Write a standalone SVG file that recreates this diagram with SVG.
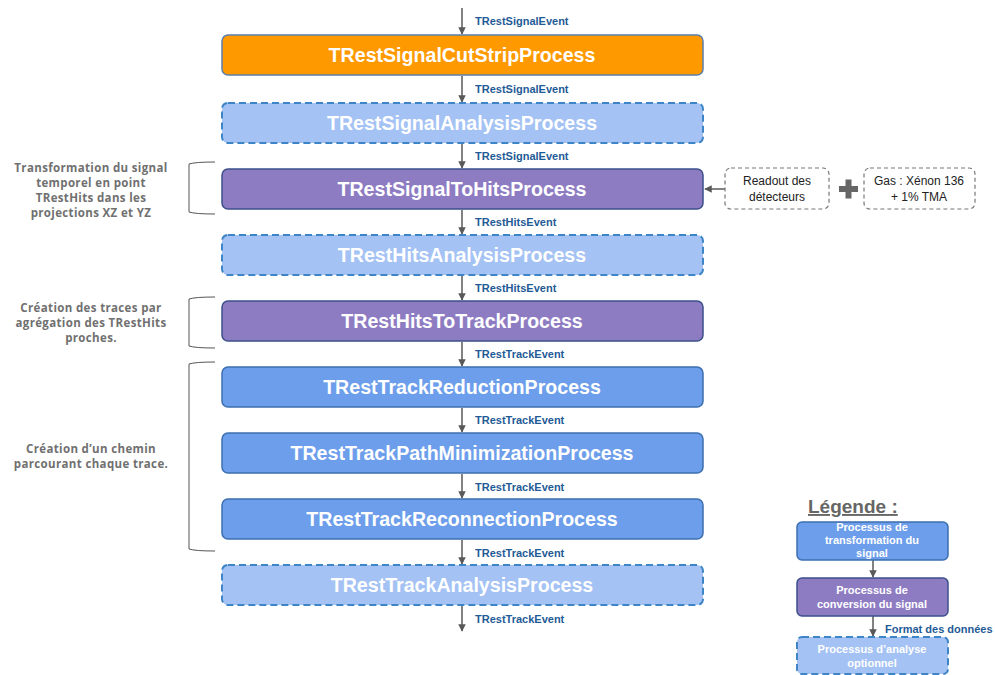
<svg xmlns="http://www.w3.org/2000/svg" width="995" height="675" viewBox="0 0 995 675">
<defs>
<marker id="ah" viewBox="0 0 10 10" refX="9" refY="5" markerWidth="5" markerHeight="5" orient="auto"><path d="M0,0 L10,5 L0,10 z" fill="#595959"/></marker>
<style>
.box{stroke-width:1.5}
.orange{fill:#ff9900;stroke:#5b7fa8}
.opt{fill:#a4c2f4;stroke:#3d85c6;stroke-dasharray:7 4;stroke-width:2}
.purple{fill:#8e7cc3;stroke:#3d4f8a}
.blue{fill:#6d9eeb;stroke:#3c6fb0}
.t{font-family:"Liberation Sans",Arial,sans-serif;font-weight:bold;font-size:19.6px;fill:#fff;text-anchor:middle}
.lbl{font-family:"Liberation Sans",Arial,sans-serif;font-weight:bold;font-size:11px;fill:#1f5b96}
.side{font-family:"Open Sans","Noto Sans",sans-serif;font-weight:bold;font-size:11.5px;letter-spacing:0.35px;fill:#707070;text-anchor:middle}
.conn{stroke:#595959;stroke-width:1.5;fill:none}
.br{stroke:#555;stroke-width:1;fill:none}
.note{fill:#fff;stroke:#777;stroke-width:1.2;stroke-dasharray:4 3}
.nt{font-family:"Liberation Sans",Arial,sans-serif;font-size:12px;fill:#222;text-anchor:middle}
.lt{font-family:"Liberation Sans",Arial,sans-serif;font-weight:bold;font-size:11px;fill:#fff;text-anchor:middle}
</style>
</defs>
<rect width="995" height="675" fill="#fff"/>

<g id="connectors">
<line class="conn" x1="462" y1="8" x2="462" y2="34" marker-end="url(#ah)"/>
<line class="conn" x1="462" y1="76" x2="462" y2="102" marker-end="url(#ah)"/>
<line class="conn" x1="462" y1="144" x2="462" y2="168" marker-end="url(#ah)"/>
<line class="conn" x1="462" y1="210" x2="462" y2="234" marker-end="url(#ah)"/>
<line class="conn" x1="462" y1="276" x2="462" y2="300" marker-end="url(#ah)"/>
<line class="conn" x1="462" y1="342" x2="462" y2="366" marker-end="url(#ah)"/>
<line class="conn" x1="462" y1="408" x2="462" y2="432" marker-end="url(#ah)"/>
<line class="conn" x1="462" y1="474" x2="462" y2="498" marker-end="url(#ah)"/>
<line class="conn" x1="462" y1="540" x2="462" y2="564" marker-end="url(#ah)"/>
<line class="conn" x1="462" y1="606" x2="462" y2="631" marker-end="url(#ah)"/>
<line class="conn" x1="725" y1="189" x2="705" y2="189" marker-end="url(#ah)"/>
<line class="conn" x1="873" y1="560" x2="873" y2="577" marker-end="url(#ah)"/>
<line class="conn" x1="873" y1="616" x2="873" y2="636" marker-end="url(#ah)"/>
<text class="lbl" x="475" y="25">TRestSignalEvent</text>
<text class="lbl" x="475" y="93">TRestSignalEvent</text>
<text class="lbl" x="475" y="160">TRestSignalEvent</text>
<text class="lbl" x="475" y="226">TRestHitsEvent</text>
<text class="lbl" x="475" y="292">TRestHitsEvent</text>
<text class="lbl" x="475" y="358">TRestTrackEvent</text>
<text class="lbl" x="475" y="424">TRestTrackEvent</text>
<text class="lbl" x="475" y="491">TRestTrackEvent</text>
<text class="lbl" x="475" y="557">TRestTrackEvent</text>
<text class="lbl" x="475" y="623">TRestTrackEvent</text>
<text class="lbl" x="885" y="633">Format des données</text>
</g>

<g id="n1"><rect class="box orange" x="222" y="35" width="481" height="40" rx="6"/><text class="t" x="462" y="62">TRestSignalCutStripProcess</text></g>
<g id="n2"><rect class="box opt" x="222" y="103" width="481" height="40" rx="6"/><text class="t" x="462" y="130">TRestSignalAnalysisProcess</text></g>
<g id="n3"><rect class="box purple" x="222" y="169" width="481" height="40" rx="6"/><text class="t" x="462" y="196">TRestSignalToHitsProcess</text></g>
<g id="n4"><rect class="box opt" x="222" y="235" width="481" height="40" rx="6"/><text class="t" x="462" y="262">TRestHitsAnalysisProcess</text></g>
<g id="n5"><rect class="box purple" x="222" y="301" width="481" height="40" rx="6"/><text class="t" x="462" y="328">TRestHitsToTrackProcess</text></g>
<g id="n6"><rect class="box blue" x="222" y="367" width="481" height="40" rx="6"/><text class="t" x="462" y="394">TRestTrackReductionProcess</text></g>
<g id="n7"><rect class="box blue" x="222" y="433" width="481" height="40" rx="6"/><text class="t" x="462" y="460">TRestTrackPathMinimizationProcess</text></g>
<g id="n8"><rect class="box blue" x="222" y="499" width="481" height="40" rx="6"/><text class="t" x="462" y="526">TRestTrackReconnectionProcess</text></g>
<g id="n9"><rect class="box opt" x="222" y="565" width="481" height="40" rx="6"/><text class="t" x="462" y="592">TRestTrackAnalysisProcess</text></g>

<g id="readout"><rect class="note" x="725" y="168" width="104" height="41" rx="6"/><text class="nt" x="777" y="185">Readout des</text><text class="nt" x="777" y="201">détecteurs</text></g>
<g id="plus"><rect x="839" y="186" width="19" height="6" fill="#666"/><rect x="845.5" y="179.5" width="6" height="19" fill="#666"/></g>
<g id="gas"><rect class="note" x="864" y="168" width="111" height="41" rx="6"/><text class="nt" x="919" y="185">Gas : Xénon 136</text><text class="nt" x="919" y="201">+ 1% TMA</text></g>

<g id="annot1"><path class="br" d="M215,162 Q195,162 189,164 L189,212 Q195,214 215,214"/>
<text class="side" x="91" y="172">Transformation du signal</text><text class="side" x="91" y="187">temporel en point</text><text class="side" x="91" y="202">TRestHits dans les</text><text class="side" x="91" y="217">projections XZ et YZ</text></g>
<g id="annot2"><path class="br" d="M215,297 Q195,297 189,299 L189,346 Q195,348 215,348"/>
<text class="side" x="91" y="312">Création des traces par</text><text class="side" x="91" y="327">agrégation des TRestHits</text><text class="side" x="91" y="342">proches.</text></g>
<g id="annot3"><path class="br" d="M215,362 Q195,362 189,364 L189,549 Q195,551 215,551"/>
<text class="side" x="91" y="453">Création d’un chemin</text><text class="side" x="91" y="468">parcourant chaque trace.</text></g>

<g id="legend">
<text x="808" y="513" font-family="Liberation Sans,Arial,sans-serif" font-weight="bold" font-size="19" fill="#666" text-decoration="underline">Légende :</text>
<rect class="box blue" x="797" y="522" width="151" height="38" rx="5"/>
<text class="lt" x="872" y="531">Processus de</text><text class="lt" x="872" y="544">transformation du</text><text class="lt" x="872" y="557">signal</text>
<rect class="box purple" x="797" y="578" width="151" height="38" rx="5"/>
<text class="lt" x="872" y="594">Processus de</text><text class="lt" x="872" y="608">conversion du signal</text>
<rect class="box opt" x="797" y="637" width="151" height="37" rx="5"/>
<text class="lt" x="872" y="653">Processus d’analyse</text><text class="lt" x="872" y="667">optionnel</text>
</g>
</svg>
